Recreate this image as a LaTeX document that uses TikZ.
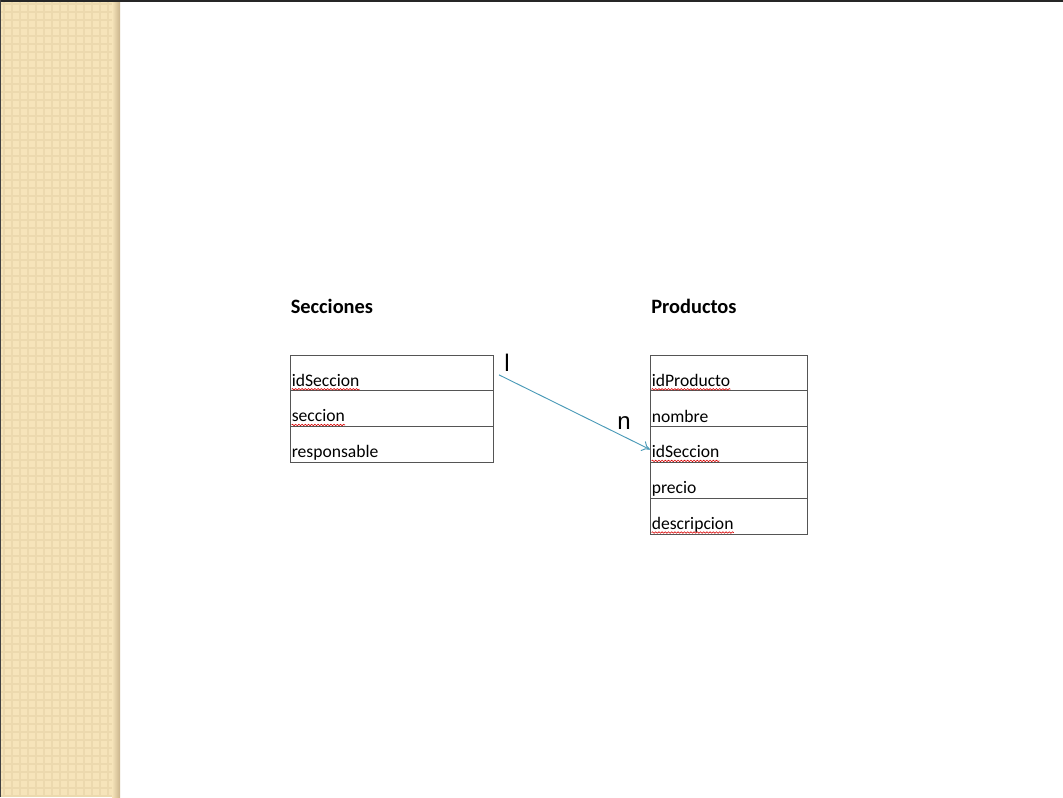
\documentclass[tikz,border=0pt]{standalone}
\usepackage{fontspec}
\setmainfont{Carlito}
\newfontfamily\arialf{Liberation Sans}
\usetikzlibrary{arrows.meta,decorations.pathmorphing}
\definecolor{stripe}{HTML}{F6E4BA}
\definecolor{stripedk}{HTML}{ECD9AE}
\definecolor{shadowc}{HTML}{C9B48C}
\definecolor{linkc}{HTML}{4A9AB8}
\definecolor{gridc}{HTML}{555555}
\begin{document}
\begin{tikzpicture}[x=0.75pt,y=-0.75pt,
  rowbox/.style={draw=gridc, line width=0.6pt, inner sep=0pt, outer sep=0pt, anchor=north west},
  srow/.style={rowbox, minimum width=152.25pt, minimum height=26.8pt},
  prow/.style={rowbox, minimum width=117.75pt, minimum height=26.85pt},
  lbl/.style={inner sep=0pt, anchor=base west, font=\fontsize{13.2}{15}\selectfont},
  ttl/.style={inner sep=0pt, anchor=base west, font=\fontsize{15.3}{18}\selectfont\bfseries},
  card/.style={inner sep=0pt, font=\arialf\fontsize{18}{20}\selectfont},
  wavy/.style={draw=red!85!black, line width=0.45pt, decorate, decoration={snake, amplitude=0.55pt, segment length=2.4pt}},
  link/.style={draw=linkc, line width=0.7pt, -{To[length=6pt,width=8pt]}}]
\useasboundingbox (0,0) rectangle (1063,797);
\fill[white] (0,0) rectangle (1063,797);
% decorative stripe
\fill[stripe] (0,0) rectangle (120,797);
\begin{scope}
\clip (1,2) rectangle (115,797);
\foreach \k in {0,...,100} {
  \draw[stripedk, line width=1.3pt] (0,{4+8*\k}) -- (120,{4+8*\k});
}
\foreach \k in {0,...,15} {
  \draw[stripedk, line width=1.3pt] ({4+8*\k},0) -- ({4+8*\k},797);
}
\end{scope}
\shade[left color=stripe, right color=shadowc] (112,2) rectangle (120,797);
\fill[black!85] (0,0) rectangle (1063,2.2);
\fill[black!75] (0,0) rectangle (1.2,797);
% titles
\node[ttl] (tS) at (290.5,313) {Secciones};
\node[ttl] (tP) at (651,313) {Productos};
% Secciones table
\node[srow] (s1) at (290,355) {};
\node[srow] (s2) at (s1.south west) {};
\node[srow] (s3) at (s2.south west) {};
\node[lbl] (s1t) at ([shift={(1.5,-4.5)}]s1.south west) {idSeccion};
\node[lbl] (s2t) at ([shift={(1.5,-4.5)}]s2.south west) {seccion};
\node[lbl] (s3t) at ([shift={(1.5,-4.5)}]s3.south west) {responsable};
% Productos table
\node[prow] (p1) at (650,355) {};
\node[prow] (p2) at (p1.south west) {};
\node[prow] (p3) at (p2.south west) {};
\node[prow] (p4) at (p3.south west) {};
\node[prow] (p5) at (p4.south west) {};
\node[lbl] (p1t) at ([shift={(1.5,-4.5)}]p1.south west) {idProducto};
\node[lbl] (p2t) at ([shift={(1.5,-4.5)}]p2.south west) {nombre};
\node[lbl] (p3t) at ([shift={(1.5,-4.5)}]p3.south west) {idSeccion};
\node[lbl] (p4t) at ([shift={(1.5,-4.5)}]p4.south west) {precio};
\node[lbl] (p5t) at ([shift={(1.5,-4.5)}]p5.south west) {descripcion};
% spell-check underlines
\foreach \n in {s1t,s2t,p1t,p3t,p5t} {
  \draw[wavy] ([shift={(0,3)}]\n.base west) -- ([shift={(0,3)}]\n.base east);
}
% relationship
\coordinate (a0) at ([shift={(6,2)}]s1.east);
\coordinate (a1) at ([shift={(0,5)}]p3.west);
\draw[link] (a0) -- (a1);
\node[card] (c1) at (507,363) {l};
\node[card] (cn) at (624,423.5) {n};
\end{tikzpicture}
\end{document}
